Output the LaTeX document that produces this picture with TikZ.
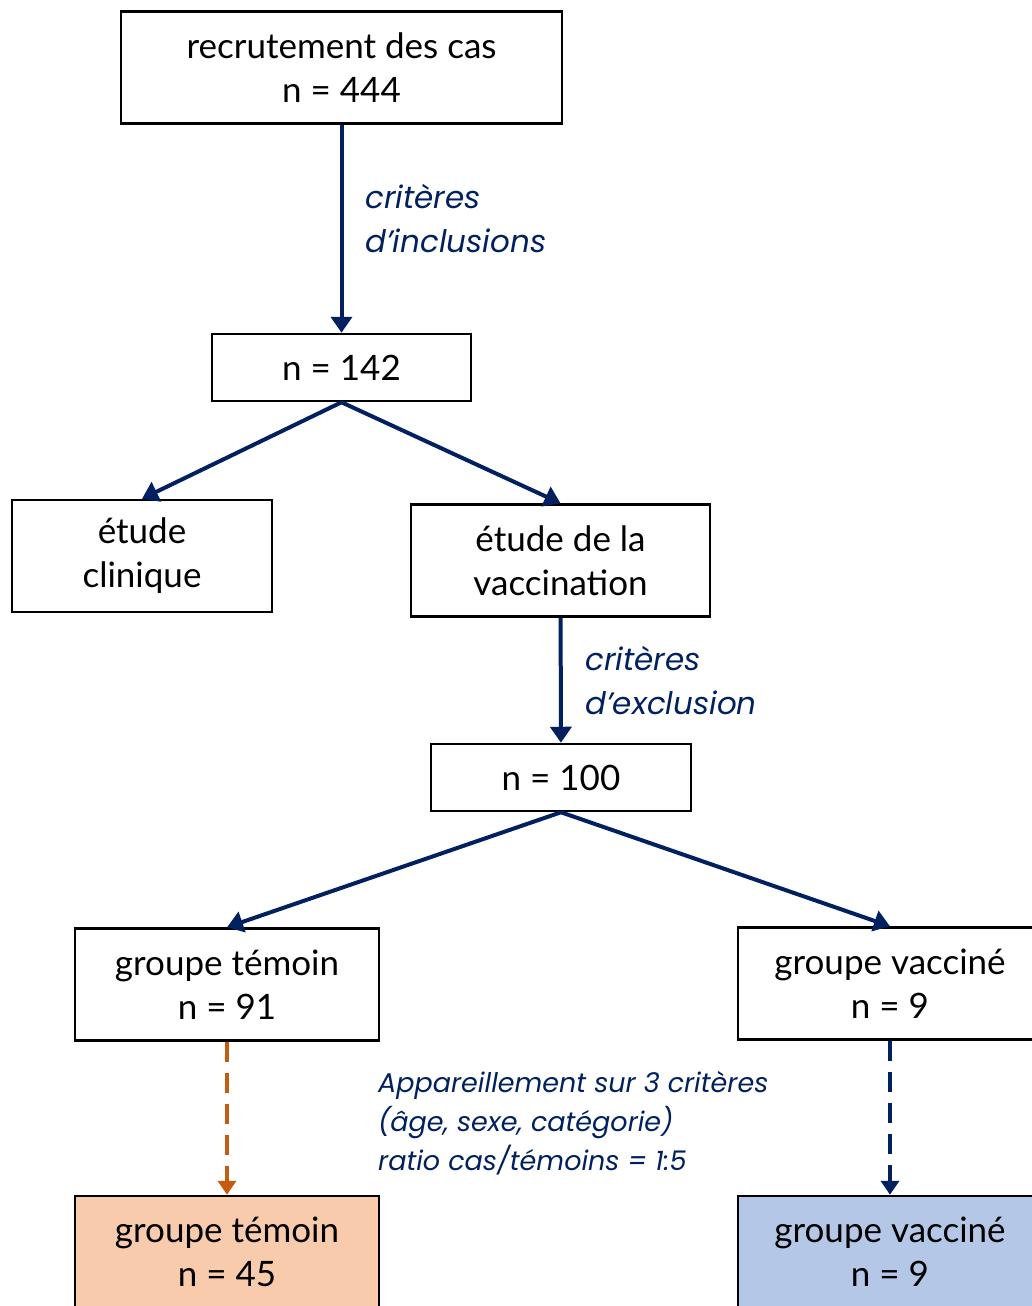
\documentclass[tikz,border=0pt]{standalone}
\usepackage{fontspec}
\setmainfont{Lato}
\newfontfamily\notefont{Poppins}
\usepackage{tikz}
\usetikzlibrary{arrows.meta,positioning}
\definecolor{navy}{RGB}{0,32,96}
\definecolor{rust}{RGB}{197,90,17}
\definecolor{peach}{RGB}{248,203,173}
\definecolor{paleblue}{RGB}{180,199,231}

\begin{document}
\begin{tikzpicture}[x=1pt, y=-1pt,
                every node/.append style={font=\fontsize{35}{44}\selectfont},
                box/.style={draw=black, line width=2.5pt, align=center, inner sep=0pt},
                wide/.style={minimum width=#1, minimum height=112pt},
                flat/.style={minimum width=#1, minimum height=67pt},
                link/.style={draw=navy, line width=4pt, -{Triangle[width=21pt,length=16pt]}},
                note/.style={text=navy, align=left, anchor=west, inner sep=0pt,
                    font=\notefont\fontsize{31}{44}\selectfont\itshape}]
                \useasboundingbox (0,0) rectangle (1032,1306);
                \clip (0,0) rectangle (1032,1306);
                % selection
                \node [box, wide=441pt] (recrut) at (341.5,67.5) {recrutement des cas\\n = 444};
                \node [box, flat=259pt] (n142) at (341.5,367.5) {n = 142};
                \node [box, wide=260pt] (clin) at (142,556) {étude\\clinique};
                \node [box, wide=299pt] (vacc) at (560.5,560.5) {étude de la\\vaccination};
                \node [box, flat=260pt] (n100) at (561,777.5) {n = 100};
                % groupes
                \node [box, wide=304pt] (temoin) at (227,984.5) {groupe témoin\\n = 91};
                \node [box, wide=304pt] (vaccine) at (890,983.5) {groupe vacciné\\n = 9};
                \node [box, wide=304pt, fill=peach] (temoinapp) at (227,1252) {groupe témoin\\n = 45};
                \node [box, wide=304pt, fill=paleblue] (vaccineapp) at (890,1252) {groupe vacciné\\n = 9};
                % notes
                \node [note] (incl) at (365,219) {critères\\d’inclusions};
                \node [note] (excl) at (585,681) {critères\\d’exclusion};
                \node [note, font=\notefont\fontsize{27}{39}\selectfont\itshape] (appar) at (378,1123)
                    {Appareillement sur 3 critères\\(âge, sexe, catégorie)\\ratio cas/témoins = 1:5};
                \draw [link] (recrut) -- (n142);
                \draw [link] (n142.south) -- (clin.north);
                \draw [link] (n142.south) -- (vacc.north);
                \draw [link] (vacc) -- (n100);
                \draw [link] (n100.south) -- (temoin.north);
                \draw [link] (n100.south) -- (vaccine.north);
                \begin{scope}[dash pattern=on 20pt off 11pt, line width=4.5pt]
                \draw [rust, -{Triangle[width=18pt,length=14pt]}] (temoin) -- (temoinapp);
                \draw [navy, -{Triangle[width=18pt,length=14pt]}] (vaccine) -- (vaccineapp);
                \end{scope}
\end{tikzpicture}
\end{document}
